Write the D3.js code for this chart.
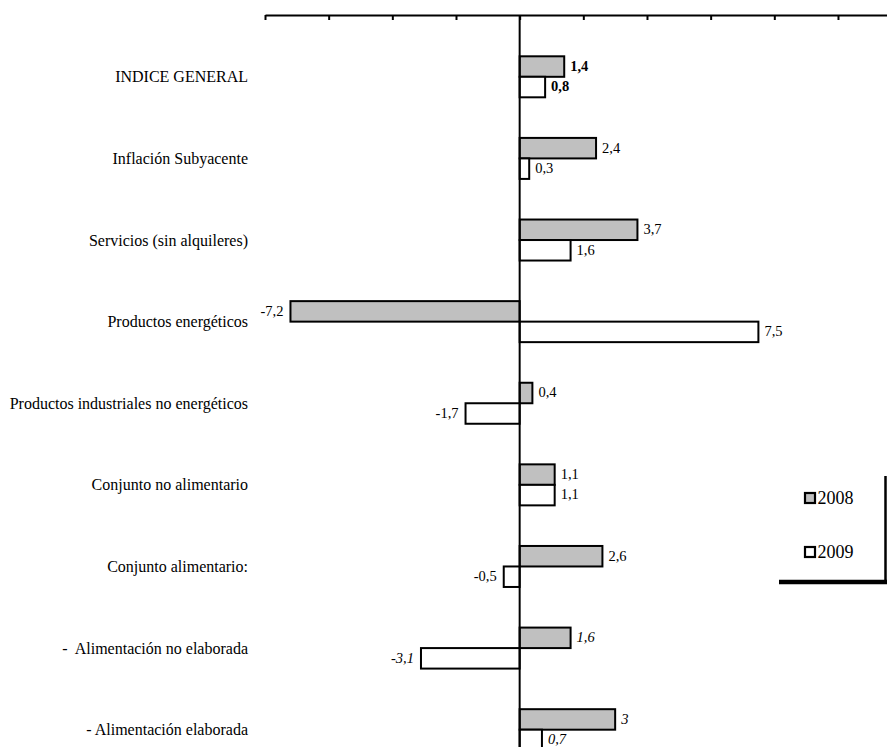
<!DOCTYPE html>
<html>
<head>
<meta charset="utf-8">
<script src="https://cdnjs.cloudflare.com/ajax/libs/d3/7.8.5/d3.min.js"></script>
<style>
  body {margin:0; background:#fff}
</style>
</head>
<body>
<svg id="chart" width="887" height="747" font-family="'Liberation Serif', 'Times New Roman', serif"></svg>
<script>
var categories = ["INDICE GENERAL", "Inflación Subyacente", "Servicios (sin alquileres)",
    "Productos energéticos", "Productos industriales no energéticos", "Conjunto no alimentario",
    "Conjunto alimentario:", "-  Alimentación no elaborada", "- Alimentación elaborada"]
var v2008 = [1.4, 2.4, 3.7, -7.2, 0.4, 1.1, 2.6, 1.6, 3]
var v2009 = [0.8, 0.3, 1.6, 7.5, -1.7, 1.1, -0.5, -3.1, 0.7]
var labelStyle = ["bold", "", "", "", "", "", "", "italic", "italic"]   // per category
var years = ["2008", "2009"]
var ticks = [-8, -6, -4, -2, 0, 2, 4, 6, 8, 10]

var svg = d3.select("#chart")
var x = d3.scaleLinear().domain([-8, 11.54]).range([265, 887])
var y = d3.scaleBand().domain(categories).range([36, 770.5])
var barH = 20.5
var fmt = v => String(v).replace(".", ",")

// top axis, no labels
var axis = svg.append("g").attr("transform", "translate(0,15)")
    .call(d3.axisBottom(x).tickValues(ticks).tickSize(5).tickSizeOuter(0).tickFormat(""))
axis.select(".domain").attr("stroke-width", 2)
axis.selectAll(".tick line").attr("stroke-width", 2)

// category labels
svg.append("g").selectAll("text").data(categories).join("text")
    .attr("x", 248)
    .attr("y", d => y(d) + y.bandwidth() / 2)
    .attr("dy", "0.35em")
    .attr("text-anchor", "end")
    .attr("font-size", 16)
    .style("white-space", "pre")
    .text(d => d)

function drawSeries(vals, fill, offset) {
    var g = svg.append("g")
    g.selectAll("rect").data(vals).join("rect")
        .attr("x", d => x(Math.min(0, d)))
        .attr("y", (d, i) => y(categories[i]) + y.bandwidth() / 2 + offset)
        .attr("width", d => Math.abs(x(d) - x(0)))
        .attr("height", barH)
        .attr("fill", fill)
        .attr("stroke", "#000")
        .attr("stroke-width", 2)
    g.selectAll("text").data(vals).join("text")
        .attr("x", d => d < 0 ? x(d) - 7 : x(d) + 6)
        .attr("y", (d, i) => y(categories[i]) + y.bandwidth() / 2 + offset + barH / 2)
        .attr("dy", "0.3em")
        .attr("text-anchor", d => d < 0 ? "end" : "start")
        .attr("font-size", 14.5)
        .attr("font-weight", (d, i) => labelStyle[i] == "bold" ? "bold" : null)
        .attr("font-style", (d, i) => labelStyle[i] == "italic" ? "italic" : null)
        .text(d => fmt(d))
}
drawSeries(v2008, "#c0c0c0", -barH)
drawSeries(v2009, "#fff", 0)

// zero line
svg.append("line")
    .attr("x1", x(0)).attr("x2", x(0))
    .attr("y1", 15).attr("y2", 747)
    .attr("stroke", "#000").attr("stroke-width", 2)

// legend (box shadow cut at the right edge)
var legend = svg.append("g")
legend.selectAll("rect").data(years).join("rect")
    .attr("x", 805)
    .attr("y", (d, i) => 493 + i * 54)
    .attr("width", 10).attr("height", 10)
    .attr("fill", (d, i) => i == 0 ? "#c0c0c0" : "#fff")
    .attr("stroke", "#000").attr("stroke-width", 2.2)
legend.selectAll("text").data(years).join("text")
    .attr("x", 817.5)
    .attr("y", (d, i) => 498 + i * 54)
    .attr("dy", "0.35em")
    .attr("font-size", 18)
    .text(d => d)
legend.append("line").attr("x1", 885.5).attr("x2", 885.5).attr("y1", 476).attr("y2", 584)
    .attr("stroke", "#000").attr("stroke-width", 2.5)
legend.append("line").attr("x1", 779).attr("x2", 887).attr("y1", 582).attr("y2", 582)
    .attr("stroke", "#000").attr("stroke-width", 4.5)
</script>
</body>
</html>
